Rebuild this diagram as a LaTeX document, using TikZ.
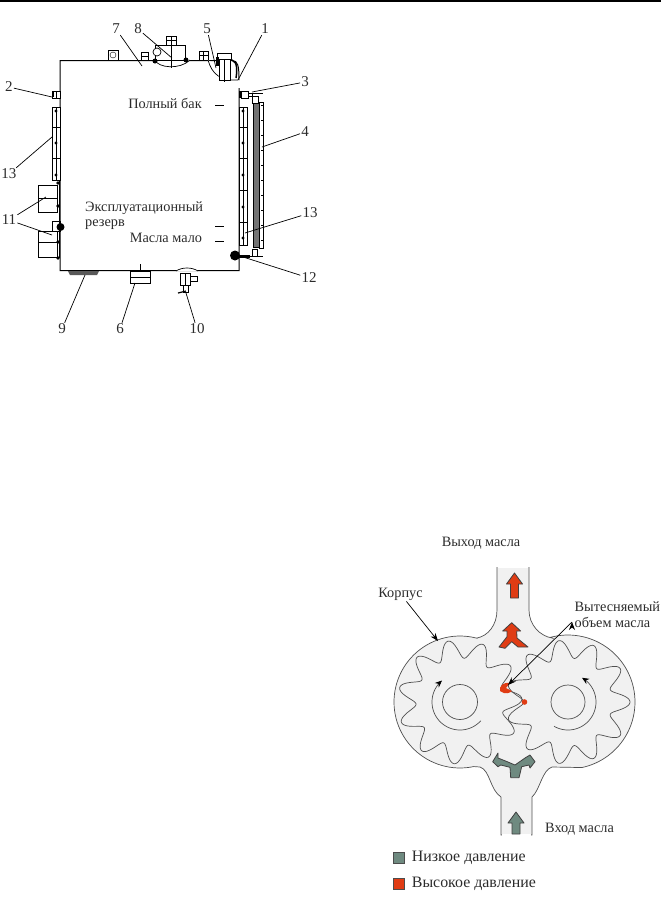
\documentclass[tikz,border=0pt]{standalone}
\usepackage{fontspec}
\setmainfont{Liberation Serif}
\usetikzlibrary{positioning,arrows.meta}
\definecolor{oilgrey}{HTML}{F1F1F1}
\definecolor{lowp}{HTML}{6F8A80}
\definecolor{highp}{HTML}{E03C14}
\definecolor{inktxt}{HTML}{2B2B2B}
\definecolor{gearink}{HTML}{505050}
\tikzset{
  lbl/.style={inner sep=1pt,text=inktxt,font=\fontsize{14.3}{14.3}\selectfont},
  num/.style={lbl,font=\fontsize{15}{15}\selectfont},
  leader/.style={draw=black,line width=0.7pt},
  tankline/.style={draw=black,line width=1pt},
  part/.style={draw=black,line width=0.7pt,fill=white},
  bolt/.style={fill=black,radius=1.6},
  gearline/.style={draw=gearink,line width=0.7pt},
  flow/.style={draw=black!75,line width=0.8pt,line join=round},
}
% gear contour: centre x, centre y, angle of one tooth
\newcommand{\gearpath}[3]{plot[domain=0:360,samples=331]
  ({#1+(53+9*cos(11*(\x-#3)))*cos(\x)},{#2-(53+9*cos(11*(\x-#3)))*sin(\x)})}
% up arrow: x of axis, y of tip, y of stem end, colour
\newcommand{\flowarrow}[4]{\draw[flow,fill=#4] (#1,#2) -- (#1+8,#2+11) -- (#1+4,#2+11)
  -- (#1+4,#3) -- (#1-4,#3) -- (#1-4,#2+11) -- (#1-8,#2+11) -- cycle;}
\begin{document}
\begin{tikzpicture}[x=1pt,y=-1pt]
   \useasboundingbox (0,0) rectangle (661,898);
   \draw[line width=1.5pt] (0,1) -- (661,1);

   % tank
   \draw[tankline] (239,88) -- (239,270.5) -- (60,270.5) -- (60,60.5) -- (232,60.5)
     .. controls (238,60.5) and (239,66) .. (239,80);
   \draw[part] (108,60) rectangle (118,50);
   \draw (113,55) circle[radius=3];
   \draw[part] (141,60) rectangle (148,52) (141,56) -- (148,56);
   \draw[part] (199,60) rectangle (208,51) (203.5,51) -- (203.5,60) (199,55) -- (208,55);
   % filler 8
   \draw[part] (155,60) .. controls (158,68) and (180,70) .. (190,60);
   \draw[part] (155,45) rectangle (185,60);
   \draw[part] (166,36) rectangle (176,45) (171,36) -- (171,68) (166,40) -- (176,40);
   \draw[part] (157,52) circle[radius=4];
   \fill[black] (155,61) circle[radius=2.5] (186,60) circle[radius=2.5];
   % cap 5
   \draw[part] (208,60) .. controls (212,74) and (220,81) .. (238,80);
   \draw[part] (219,58) rectangle (230,80) (224,53) -- (224,82);
   \draw[part] (217,53) rectangle (231,59);
   \draw[line width=1.5pt] (232,60) .. controls (238,62) and (237,72) .. (236,78);
   \fill[black] (216,57) rectangle (219,66);
   % left gauge
   \draw[part] (52,107) rectangle (60,180) (56,107) -- (56,180);
   \draw[line width=0.7pt] (52,127) -- (60,127) (52,158) -- (60,158);
   \foreach \yy in {111,143,175} \fill[black] (56,\yy) circle[bolt];
   % right gauge
   \draw[part] (239,107) rectangle (247,245) (243,107) -- (243,245);
   \foreach \yy in {127,158,190,222} \draw[line width=0.7pt] (239,\yy) -- (247,\yy);
   \foreach \yy in {111,143,175,207,238} \fill[black] (243,\yy) circle[bolt];
   % sight glass 4
   \fill[black!55] (253,103) rectangle (259,247);
   \draw[black,line width=0.6pt] (253,103) rectangle (259,247);
   \draw[part] (259,102) rectangle (263,248);
   \foreach \yy in {105,120,...,245} \draw[line width=0.5pt] (261,\yy) -- (263,\yy);
   % fitting 3
   \fill[black] (239,91) rectangle (241,98);
   \draw[part] (241,91) rectangle (248,98);
   \draw[part] (248,93) rectangle (252,96);
   \draw[line width=0.7pt] (250,93.5) -- (263,93.5);
   \draw[part] (252,96) rectangle (258,103);
   % fitting 2
   \draw[part] (52,91) rectangle (60,98) (56,91) -- (56,98);
   \fill[black] (52,92) rectangle (54,97);
   % left boxes 11
   \draw[part] (38,185) rectangle (57,212) (38,198) -- (57,198);
   \draw[part] (52,221) rectangle (60,231);
   \draw[part] (38,231) rectangle (57,257) (38,242) -- (57,242);
   \draw[line width=1pt] (59,180) -- (59,258);
   \foreach \yy in {183,206,242,258} \fill[black] (58,\yy) circle[radius=1.8];
   \fill[black] (60.5,227) circle[radius=4];
   % fitting 12
   \fill[black] (235,255.5) circle[radius=5];
   \draw[line width=3pt] (238,256) -- (250,256);
   \draw[part] (252,249) rectangle (257,256);
   \draw[line width=0.7pt] (250,256) -- (263,256);
   % bottom parts
   \fill[black!65] (68,271) -- (99,271) -- (97,275) -- (70,275) -- cycle;
   \draw[line width=0.7pt] (140,264) -- (140,271);
   \draw[part] (130,271) rectangle (150,283) (130,277) -- (150,277);
   \draw[part] (176,271) .. controls (182,267) and (192,267) .. (198,271);
   \draw[part] (180,273) rectangle (190,285) (185,273) -- (185,285);
   \draw[part] (190,276) rectangle (197,281);
   \draw[part] (183,285) rectangle (188,292);
   \draw[line width=1.2pt] (178,293) -- (186,291);

   \node[lbl] (full) at (165,103) {Полный бак};
   \node[lbl,anchor=west] (res1) at (84,208) {Эксплуатационный};
   \node[lbl,below=3pt of res1.south west,anchor=north west] (res2) {резерв};
   \node[lbl] (low) at (166,238) {Масла мало};
   \draw[line width=0.9pt] (215,105) -- (224,105) (215,226) -- (224,226) (215,241) -- (224,241);

   \node[num] (n7) at (116,29) {7};
   \node[num] (n8) at (138,29) {8};
   \node[num] (n5) at (207,29) {5};
   \node[num] (n1) at (265,29) {1};
   \node[num] (n2) at (9,87) {2};
   \node[num] (n3) at (305,82) {3};
   \node[num] (n4) at (305,132) {4};
   \node[num] (n13a) at (9,174) {13};
   \node[num] (n11) at (9,220) {11};
   \node[num] (n13b) at (310,213) {13};
   \node[num] (n12) at (309,278) {12};
   \node[num] (n9) at (62,329) {9};
   \node[num] (n6) at (120,329) {6};
   \node[num] (n10) at (197,329) {10};

   \coordinate (p7) at (142,66);
   \coordinate (p8) at (172,58);
   \coordinate (p5) at (216,68);
   \coordinate (p1) at (238,80);
   \coordinate (p2) at (52,97);
   \coordinate (p3) at (252,92);
   \coordinate (p4) at (262,147);
   \coordinate (p13a) at (52,137);
   \coordinate (p11a) at (46,197);
   \coordinate (p11b) at (52,235);
   \coordinate (p13b) at (245,233);
   \coordinate (p12) at (240,256);
   \coordinate (p9) at (85,275);
   \coordinate (p6) at (135,283);
   \coordinate (p10) at (186,293);
   \path[leader]
    (n7) edge (p7)
    (n8) edge (p8)
    (n5) edge (p5)
    (n1) edge (p1)
    (n2) edge (p2)
    (n3) edge (p3)
    (n4) edge (p4)
    (n13a) edge (p13a)
    (n11) edge (p11a)
    (n11) edge (p11b)
    (n13b) edge (p13b)
    (n12) edge (p12)
    (n9) edge (p9)
    (n6) edge (p6)
    (n10) edge (p10);

   % pump body
   \draw[gearline,fill=oilgrey] (497,567) -- (497,610) .. controls (497,625) and (488,636) .. (477,638)
     -- plot[domain=75:282,samples=60] ({460+66*cos(\x)},{702-66*sin(\x)})
     -- (480,767) .. controls (490,770) and (490,790) .. (501,797) -- (501,835)
     -- (532,835) -- (532,797) .. controls (540,790) and (542,770) .. (552,767)
     -- plot[domain=-78:105,samples=60] ({568+67*cos(\x)},{702-67*sin(\x)})
     -- (552,638) .. controls (540,636) and (529,625) .. (529,610) -- (529,567);
   \draw[white,line width=1.5pt] (498,567) -- (528,567) (502,835) -- (531,835);
   \draw[gearline] \gearpath{460}{702}{101} -- cycle;
   \draw[gearline] \gearpath{568}{702}{0} -- cycle;
   \draw[gearline] (460,702) circle[radius=17.5] (568,702) circle[radius=17];
   \draw[gearline,-{Stealth[length=7pt,width=6pt,black]}] plot[domain=318:130,samples=50] ({460+28*cos(\x)},{702-28*sin(\x)});
   \draw[gearline,-{Stealth[length=7pt,width=6pt,black]}] plot[domain=240:420,samples=50] ({568+28*cos(\x)},{702-28*sin(\x)});

   % flows
   \flowarrow{514.5}{573}{598}{highp}
   \flowarrow{516}{812}{834}{lowp}
   \draw[flow,fill=highp] (511.7,622.7) -- (520.7,631) -- (516.7,631) -- (517,638) -- (528,647)
     -- (518,647) -- (511.7,641.7) -- (505,648.3) -- (499,647) -- (507,636.7) -- (507,631)
     -- (502.7,631) -- cycle;
   \draw[flow,fill=lowp] (510.7,777.7) -- (519,777.7) -- (521.7,766.7) -- (529,765) -- (530,768)
     -- (535,761.7) -- (530,755) -- (525,758) -- (515,765) -- (508,762) -- (498,758)
     -- (498,753) -- (492.7,761.7) -- (498,766.7) -- (500.7,765) -- (510,767.3) -- cycle;
   \fill[highp] (510,683) .. controls (503,682) and (499,686) .. (500,691)
     .. controls (505,695) and (510,693) .. (512,691) -- (506,688) -- cycle;
   \fill[highp] (524.5,702) circle[radius=2.8];

   \node[lbl] (outlet) at (481,543) {Выход масла};
   \node[lbl] (body) at (400.5,594) {Корпус};
   \node[lbl,anchor=west] (disp1) at (573.5,607) {Вытесняемый};
   \node[lbl,below=3pt of disp1.south west,anchor=north west] (disp2) {объем масла};
   \node[lbl,anchor=west] (inlet) at (544,829) {Вход масла};
   \coordinate (pbody) at (438,641);
   \coordinate (pdisp) at (508,685);
   \coordinate (sdisp) at (572,622);
   \path[leader,-{Stealth[length=8pt,width=6pt]}] (body) edge (pbody);
   \path[leader,-{Stealth[length=8pt,width=6pt]}] (sdisp) edge (pdisp);

   % legend
   \node[draw=black!70,fill=lowp,minimum size=11pt,inner sep=0pt] (lowbox) at (399,858) {};
   \node[draw=black!70,fill=highp,minimum size=11pt,inner sep=0pt] (highbox) at (399,884) {};
   \node[lbl,font=\fontsize{15.9}{15.9}\selectfont,right=6pt of lowbox] (lowtxt) {Низкое давление};
   \node[lbl,font=\fontsize{15.9}{15.9}\selectfont,right=6pt of highbox] (hightxt) {Высокое давление};
\end{tikzpicture}
\end{document}
